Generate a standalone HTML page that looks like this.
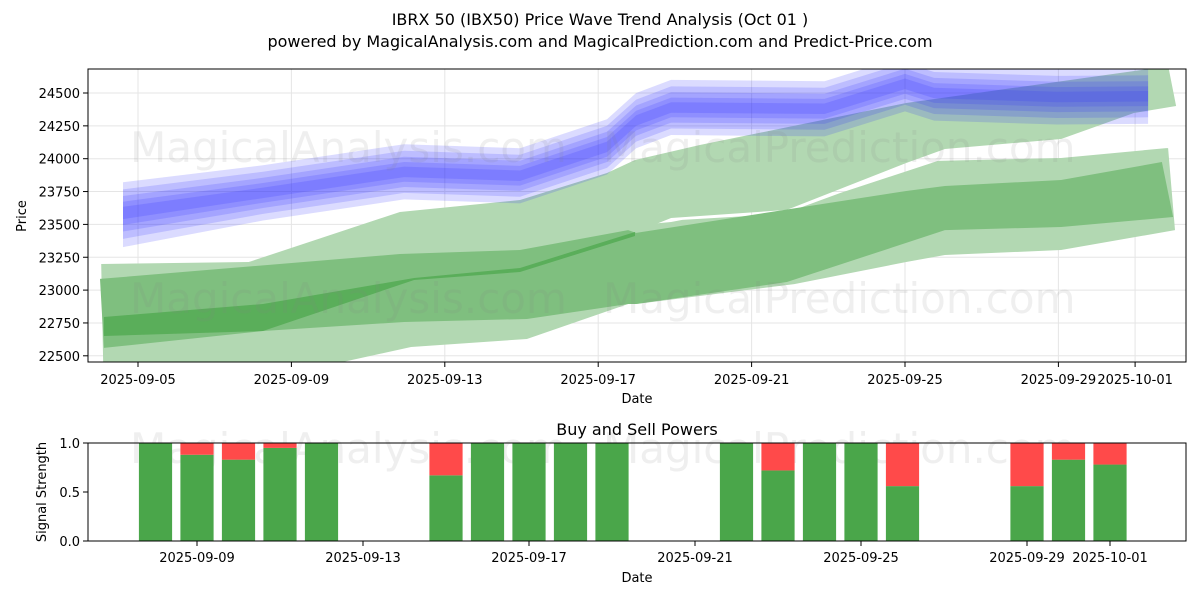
<!DOCTYPE html>
<html><head><meta charset="utf-8"><style>
html,body{margin:0;padding:0;background:#fff;}
svg{display:block;font-family:"DejaVu Sans","Liberation Sans",sans-serif;}
</style></head><body>
<svg id="fig" width="1200" height="600" viewBox="0 0 1200 600">
<defs>
<clipPath id="mainclip"><rect x="88" y="69" width="1098" height="293"/></clipPath>
</defs>
<text x="600" y="25" text-anchor="middle" font-size="16">IBRX 50 (IBX50) Price Wave Trend Analysis (Oct 01 )</text>
<text x="600" y="47" text-anchor="middle" font-size="16">powered by MagicalAnalysis.com and MagicalPrediction.com and Predict-Price.com</text>
<g id="main"></g>
<g id="sub"></g>
</svg>
<script>
// ---- main chart data ----
const mainTickDays = [0,4,8,12,16,20,24,26];
const mainTickLabels = ["2025-09-05","2025-09-09","2025-09-13","2025-09-17","2025-09-21","2025-09-25","2025-09-29","2025-10-01"];
const priceTicks = [22500,22750,23000,23250,23500,23750,24000,24250,24500];
const lowerBandTop = [[-0.96,23199],[2.89,23214],[13.90,23518],[14.19,23534],[16.82,23579],[18.31,23739],[20.86,23983],[24.07,24005],[26.81,24081],[26.86,24081]];
const lowerBandBottom = [[27.04,23457],[24.07,23305],[21.04,23267],[20.03,23214],[17.11,23046],[12.99,22894],[12.78,22894],[10.14,22628],[7.12,22567],[5.11,22438],[-0.89,22164]];
const upperBandTop = [[2.89,23214],[6.83,23594],[9.96,23686],[12.23,23891],[12.96,23990],[14.65,24104],[20.03,24424],[26.34,24683],[26.88,24683],[27.07,24401]];
const upperBandBottom = [[25.97,24348],[24.07,24150],[21.04,24074],[20.03,23967],[16.92,23610],[13.90,23549],[12.99,23442],[6.83,23229],[2.89,23214]];
const darkBandTop = [[-0.99,23085],[6.83,23275],[9.96,23305],[12.78,23457],[12.99,23435],[20.03,23754],[21.04,23792],[24.07,23838],[26.70,23975],[26.99,23556]];
const darkBandBottom = [[24.07,23480],[21.04,23457],[20.03,23359],[16.92,23062],[12.99,22894],[12.78,22894],[10.14,22780],[6.94,22757],[3.26,22689],[-0.89,22560]];
const coreBandTop = [[-0.89,22795],[3.26,22894],[7.20,23092],[9.96,23168],[12.96,23442]];
const coreBandBottom = [[12.96,23412],[9.96,23138],[7.20,23077],[3.26,22689],[-0.89,22651]];
const waveDays = [-0.39,3.26,6.94,9.96,12.23,12.99,13.9,17.9,20.0,20.76,23.96,26.34];
const wavePrices = [23590,23740,23900,23870,24090,24290,24390,24380,24570,24500,24470,24475];
const waveHalfWidths = [210,160,115,75,40];
// ---- signal chart data ----
const sigDays = [-1,0,1,2,3,6,7,8,9,10,13,14,15,16,17,20,21,22];
const buyPower = [1.0,0.88,0.83,0.95,1.0,0.67,1.0,1.0,1.0,1.0,1.0,0.72,1.0,1.0,0.56,0.56,0.83,0.78];
const sigTickDays = [0,4,8,12,16,20,22];
const sigTickLabels = ["2025-09-09","2025-09-13","2025-09-17","2025-09-21","2025-09-25","2025-09-29","2025-10-01"];
const sigYTicks = [0.0,0.5,1.0];

const NS="http://www.w3.org/2000/svg";
function mk(tag,attrs,parent){const e=document.createElementNS(NS,tag);for(const k in attrs)e.setAttribute(k,attrs[k]);parent.appendChild(e);return e;}
const X0=88,X1=1186,Y0=69,Y1=362;
const xm=d=>138+d*38.35;
const ym=p=>93+(24500-p)*32.85/250;
const main=document.getElementById('main');

function wm(g,x,y,t){const e=mk('text',{x:x,y:y,'font-size':42,fill:'#808080','fill-opacity':0.13},g);e.textContent=t;

}
priceTicks.forEach(p=>{const l=mk('line',{x1:X0,x2:X1,y1:ym(p),y2:ym(p),stroke:'#e5e5e5','stroke-width':1},main);

});
mainTickDays.forEach(d=>{const l=mk('line',{x1:xm(d),x2:xm(d),y1:Y0,y2:Y1,stroke:'#e5e5e5','stroke-width':1},main);

});

const plot=mk('g',{'clip-path':'url(#mainclip)'},main);
function poly(top,bot,fill,name){
  const pts=top.concat(bot).map(q=>xm(q[0]).toFixed(1)+','+ym(q[1]).toFixed(1)).join(' ');
  const e=mk('polygon',{points:pts,fill:fill},plot);
  
  
}
poly(lowerBandTop,lowerBandBottom,'#b2d8b2','lower-prediction-band');
poly(upperBandTop,upperBandBottom,'#b2d8b2','upper-prediction-band');
poly(darkBandTop,darkBandBottom,'#7fbf7f','overlap-band');
poly(coreBandTop,coreBandBottom,'#5aae5a','core-band');
waveHalfWidths.forEach((hw,i)=>{
  const top=waveDays.map((d,j)=>[d,wavePrices[j]+hw*(j===0?1.1:1)]);
  const bot=waveDays.map((d,j)=>[d,wavePrices[j]-hw*(j===0?1.25:1)]).reverse();
  const pts=top.concat(bot).map(q=>xm(q[0]).toFixed(1)+','+ym(q[1]).toFixed(1)).join(' ');
  const e=mk('polygon',{points:pts,fill:'rgba(40,40,255,0.17)'},plot);
  
  
});
wm(main,130,162,'MagicalAnalysis.com');wm(main,603,162,'MagicalPrediction.com');
wm(main,130,313,'MagicalAnalysis.com');wm(main,603,313,'MagicalPrediction.com');
mk('rect',{x:X0,y:Y0,width:X1-X0,height:Y1-Y0,fill:'none',stroke:'#000','stroke-width':1},main);
priceTicks.forEach(p=>{mk('line',{x1:X0-5,x2:X0,y1:ym(p),y2:ym(p),stroke:'#000'},main);
const t=mk('text',{x:X0-8,y:ym(p)+5,'text-anchor':'end','font-size':13},main);t.textContent=p;

});
mainTickDays.forEach((d,i)=>{mk('line',{x1:xm(d),x2:xm(d),y1:Y1,y2:Y1+5,stroke:'#000'},main);
const t=mk('text',{x:xm(d),y:Y1+22,'text-anchor':'middle','font-size':13},main);t.textContent=mainTickLabels[i];

});
let t=mk('text',{x:637,y:403,'text-anchor':'middle','font-size':13},main);t.textContent='Date';


t=mk('text',{x:26,y:216,'text-anchor':'middle','font-size':13,transform:'rotate(-90 26 216)'},main);t.textContent='Price';



// ---- signal chart ----
const sub=document.getElementById('sub');
const SY0=443,SY1=541;
const xs=d=>197+d*41.5;
const ys=v=>SY1-v*(SY1-SY0);
wm(sub,130,463,'MagicalAnalysis.com');wm(sub,603,463,'MagicalPrediction.com');
sigDays.forEach((d,i)=>{
  const x=xs(d)-16.6, w=33.2;
  const g=mk('rect',{x:x,y:ys(buyPower[i]),width:w,height:ys(0)-ys(buyPower[i]),fill:'#4aa64a'},sub);
  
  
  const r=mk('rect',{x:x,y:ys(1),width:w,height:ys(buyPower[i])-ys(1),fill:'#ff4a4a'},sub);
  
  
});
mk('rect',{x:X0,y:SY0,width:X1-X0,height:SY1-SY0,fill:'none',stroke:'#000'},sub);
sigYTicks.forEach(v=>{mk('line',{x1:X0-5,x2:X0,y1:ys(v),y2:ys(v),stroke:'#000'},sub);
const e=mk('text',{x:X0-8,y:ys(v)+5,'text-anchor':'end','font-size':13},sub);e.textContent=v.toFixed(1);

});
sigTickDays.forEach((d,i)=>{mk('line',{x1:xs(d),x2:xs(d),y1:SY1,y2:SY1+5,stroke:'#000'},sub);
const e=mk('text',{x:xs(d),y:SY1+21,'text-anchor':'middle','font-size':13},sub);e.textContent=sigTickLabels[i];

});
t=mk('text',{x:637,y:435,'text-anchor':'middle','font-size':16},sub);t.textContent='Buy and Sell Powers';


t=mk('text',{x:637,y:582,'text-anchor':'middle','font-size':13},sub);t.textContent='Date';


t=mk('text',{x:46,y:492,'text-anchor':'middle','font-size':13,transform:'rotate(-90 46 492)'},sub);t.textContent='Signal Strength';


</script>
</body></html>
